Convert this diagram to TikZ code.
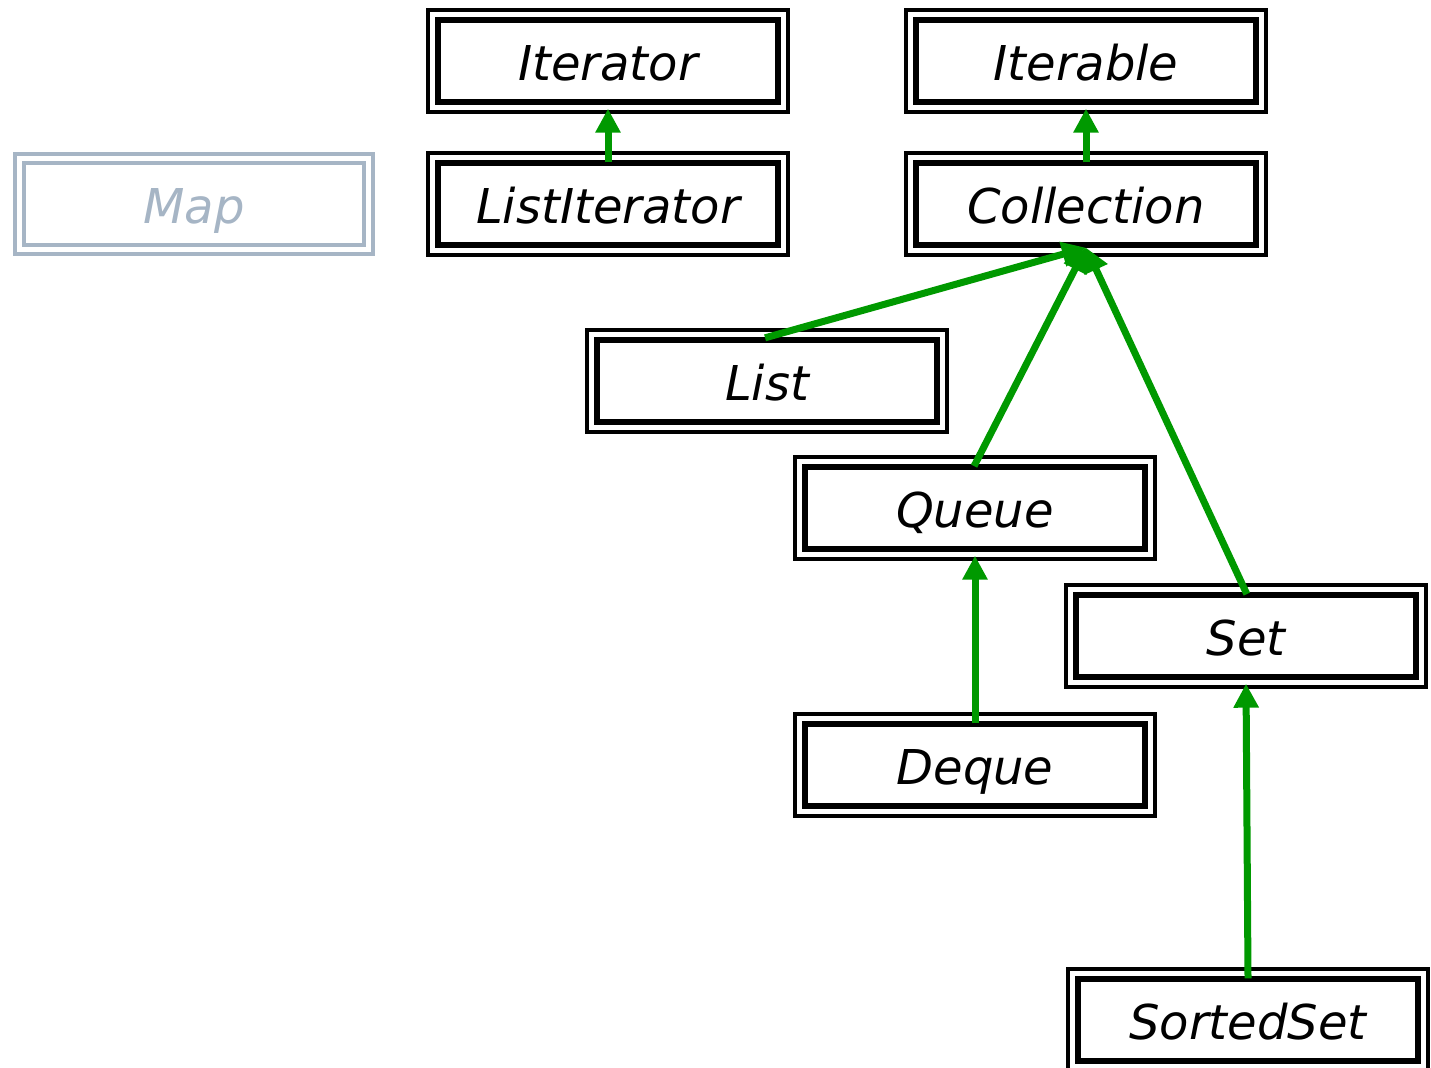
\documentclass[tikz,border=0pt]{standalone}
\usepackage{fontspec}
\setmainfont{DejaVu Sans}
\usetikzlibrary{arrows.meta,calc}

\definecolor{arrgreen}{RGB}{0,153,0}
\definecolor{mapgray}{RGB}{166,181,197}

\begin{document}
\begin{tikzpicture}[x=0.5pt, y=-0.5pt,
  iface/.style={draw, line width=2.7pt, minimum width=170pt, minimum height=41pt, inner sep=0pt, text height=22pt, text depth=2pt, font=\fontsize{24}{28}\selectfont\itshape},
  ghost/.style={iface, draw=mapgray, text=mapgray, line width=2pt},
  frame/.style={line width=1.9pt},
  arr/.style={-{Triangle[length=12pt, width=12pt]}, line width=3.5pt, draw=arrgreen, shorten >=2pt, shorten <=-1pt}
]
\useasboundingbox (0,0) rectangle (1431,1068);

\node[iface] (iterator) at (608,61) {Iterator};
\node[iface] (listiter) at (608,204) {ListIterator};
\node[ghost] (map) at (194,204) {Map};
\node[iface] (iterable) at (1086,61) {Iterable};
\node[iface] (collection) at (1086,204) {Collection};
\node[iface] (list) at (767,381) {List};
\node[iface] (queue) at (975,508) {Queue};
\node[iface] (set) at (1246,636) {Set};
\node[iface] (deque) at (975,765) {Deque};
\node[iface] (sortedset) at (1248,1020) {SortedSet};

% thin outer frame round every box
\foreach \n in {iterator,listiter,iterable,collection,list,queue,set,deque,sortedset}
  \draw[frame] ($(\n.south west)+(-3.5pt,-3.5pt)$) rectangle ($(\n.north east)+(3.5pt,3.5pt)$);
\draw[frame, draw=mapgray] ($(map.south west)+(-3.5pt,-3.5pt)$) rectangle ($(map.north east)+(3.5pt,3.5pt)$);

\draw[arr] (listiter) -- (iterator);
\draw[arr] (collection) -- (iterable);
\draw[arr, shorten >=0pt] (list.north) -- (collection.south);
\draw[arr, shorten >=0pt] (queue.north) -- (collection.south);
\draw[arr, shorten >=0pt] (set.north) -- (collection.south);
\draw[arr] (deque) -- (queue);
\draw[arr] (sortedset.north) -- (set.south);

\end{tikzpicture}
\end{document}
